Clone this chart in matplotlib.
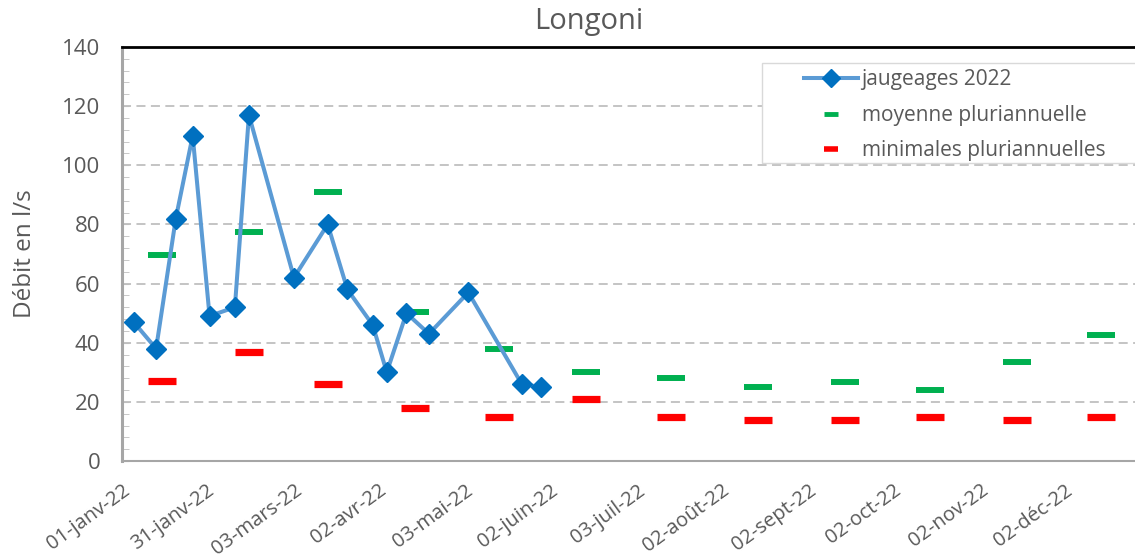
import numpy as np
import matplotlib
matplotlib.use("Agg")
import matplotlib.pyplot as plt
from matplotlib.lines import Line2D
from matplotlib.patches import Rectangle
from matplotlib.ticker import MultipleLocator

# jaugeages 2022
jaug_dates = ["2022-01-05", "2022-01-13", "2022-01-20", "2022-01-26", "2022-02-01",
              "2022-02-10", "2022-02-15", "2022-03-03", "2022-03-15", "2022-03-22",
              "2022-03-31", "2022-04-05", "2022-04-12", "2022-04-20", "2022-05-04",
              "2022-05-23", "2022-05-30"]
jaug_vals = [47, 38, 82, 110, 49, 52, 117, 62, 80, 58, 46, 30, 50, 43, 57, 26, 25]

# monthly values (plotted mid-month)
month_dates = ["2022-%02d-15" % m for m in range(1, 13)]
moyenne = [69.5, 77.5, 91, 50.5, 38, 30, 28, 25, 26.7, 24, 33.5, 42.7]
minimales = [27, 37, 26, 18, 15, 21, 15, 14, 14, 15, 14, 15]

tick_dates = ["2022-01-01", "2022-01-31", "2022-03-03", "2022-04-02", "2022-05-03",
              "2022-06-02", "2022-07-03", "2022-08-02", "2022-09-02", "2022-10-02",
              "2022-11-02", "2022-12-02"]
tick_labels = ["01-janv-22", "31-janv-22", "03-mars-22", "02-avr-22", "03-mai-22",
               "02-juin-22", "03-juil-22", "02-août-22", "02-sept-22", "02-oct-22",
               "02-nov-22", "02-déc-22"]

jd = np.array(jaug_dates, dtype="datetime64[D]")
md = np.array(month_dates, dtype="datetime64[D]")
td = np.array(tick_dates, dtype="datetime64[D]")

TXT = "#595959"
BLUE_L, BLUE_M = "#5B9BD5", "#0070C0"
GREEN, RED = "#00B050", "#FF0000"
plt.rcParams["font.family"] = ["Open Sans", "DejaVu Sans"]

W, H = 1135, 560
fig = plt.figure(figsize=(W / 100, H / 100), dpi=100)
ax = fig.add_axes([0.1078, 0.1768, 0.8922, 0.7393])

ax.plot(jd, jaug_vals, color=BLUE_L, lw=2.9, marker="D", ms=10,
        mfc=BLUE_M, mec=BLUE_M, zorder=3)
ax.plot(md, moyenne, ls="none", marker="_", ms=20, mew=4.3, color=GREEN, zorder=2)
ax.plot(md, minimales, ls="none", marker="_", ms=20, mew=5.2, color=RED, zorder=2)

ax.set_xlim(np.datetime64("2022-01-01"), np.datetime64("2022-12-27"))
ax.set_ylim(0, 140)
ax.yaxis.set_major_locator(MultipleLocator(20))
ax.yaxis.set_minor_locator(MultipleLocator(4))
ax.set_xticks(td)
ax.set_xticklabels(tick_labels, rotation=36, ha="right", rotation_mode="anchor")

ax.grid(axis="y", which="major", color="#BFBFBF", ls=(0, (5, 3)), lw=1.3)
ax.set_axisbelow(True)

ax.spines["right"].set_visible(False)
ax.spines["top"].set_color("black")
ax.spines["top"].set_linewidth(2)
ax.spines["left"].set_color("#A6A6A6")
ax.spines["left"].set_linewidth(2.2)
ax.spines["bottom"].set_color("#A6A6A6")
ax.spines["bottom"].set_linewidth(1.5)

ax.tick_params(axis="x", length=0, pad=14, labelsize=14.5, labelcolor=TXT)
ax.tick_params(axis="y", which="major", direction="in", length=5, color="#BFBFBF",
               labelsize=16, labelcolor=TXT, pad=16)
ax.tick_params(axis="y", which="minor", direction="in", length=5, color="#BFBFBF")

ax.set_ylabel("Débit en l/s", fontsize=17.5, color=TXT, labelpad=18)
fig.text(589 / W, 1 - 22 / H, "Longoni", fontsize=21, color=TXT,
         ha="center", va="center")

# legend box (extends past the right edge like the original)
fig.patches.append(Rectangle((762 / W, 1 - 163 / H), 0.4, 100 / H,
                             transform=fig.transFigure, fill=True, facecolor="white",
                             edgecolor="#D9D9D9", lw=1, zorder=4))
handles = [
    Line2D([], [], color=BLUE_L, lw=2.9, marker="D", ms=9, mfc=BLUE_M, mec=BLUE_M),
    Line2D([], [], ls="none", marker="_", ms=9.5, mew=3.5, color=GREEN),
    Line2D([], [], ls="none", marker="_", ms=9.5, mew=4, color=RED),
]
labels = ["jaugeages 2022", "moyenne pluriannuelle", "minimales pluriannuelles"]
leg = fig.legend(handles, labels, loc="upper left",
                 bbox_to_anchor=(798 / W, 1 - 63 / H), fontsize=15, frameon=False,
                 handlelength=2.6, handletextpad=0.15, borderpad=0.3,
                 borderaxespad=0, labelspacing=0.7)
leg.set_zorder(5)
for t in leg.get_texts():
    t.set_color(TXT)

fig.savefig("out.png", dpi=100)
